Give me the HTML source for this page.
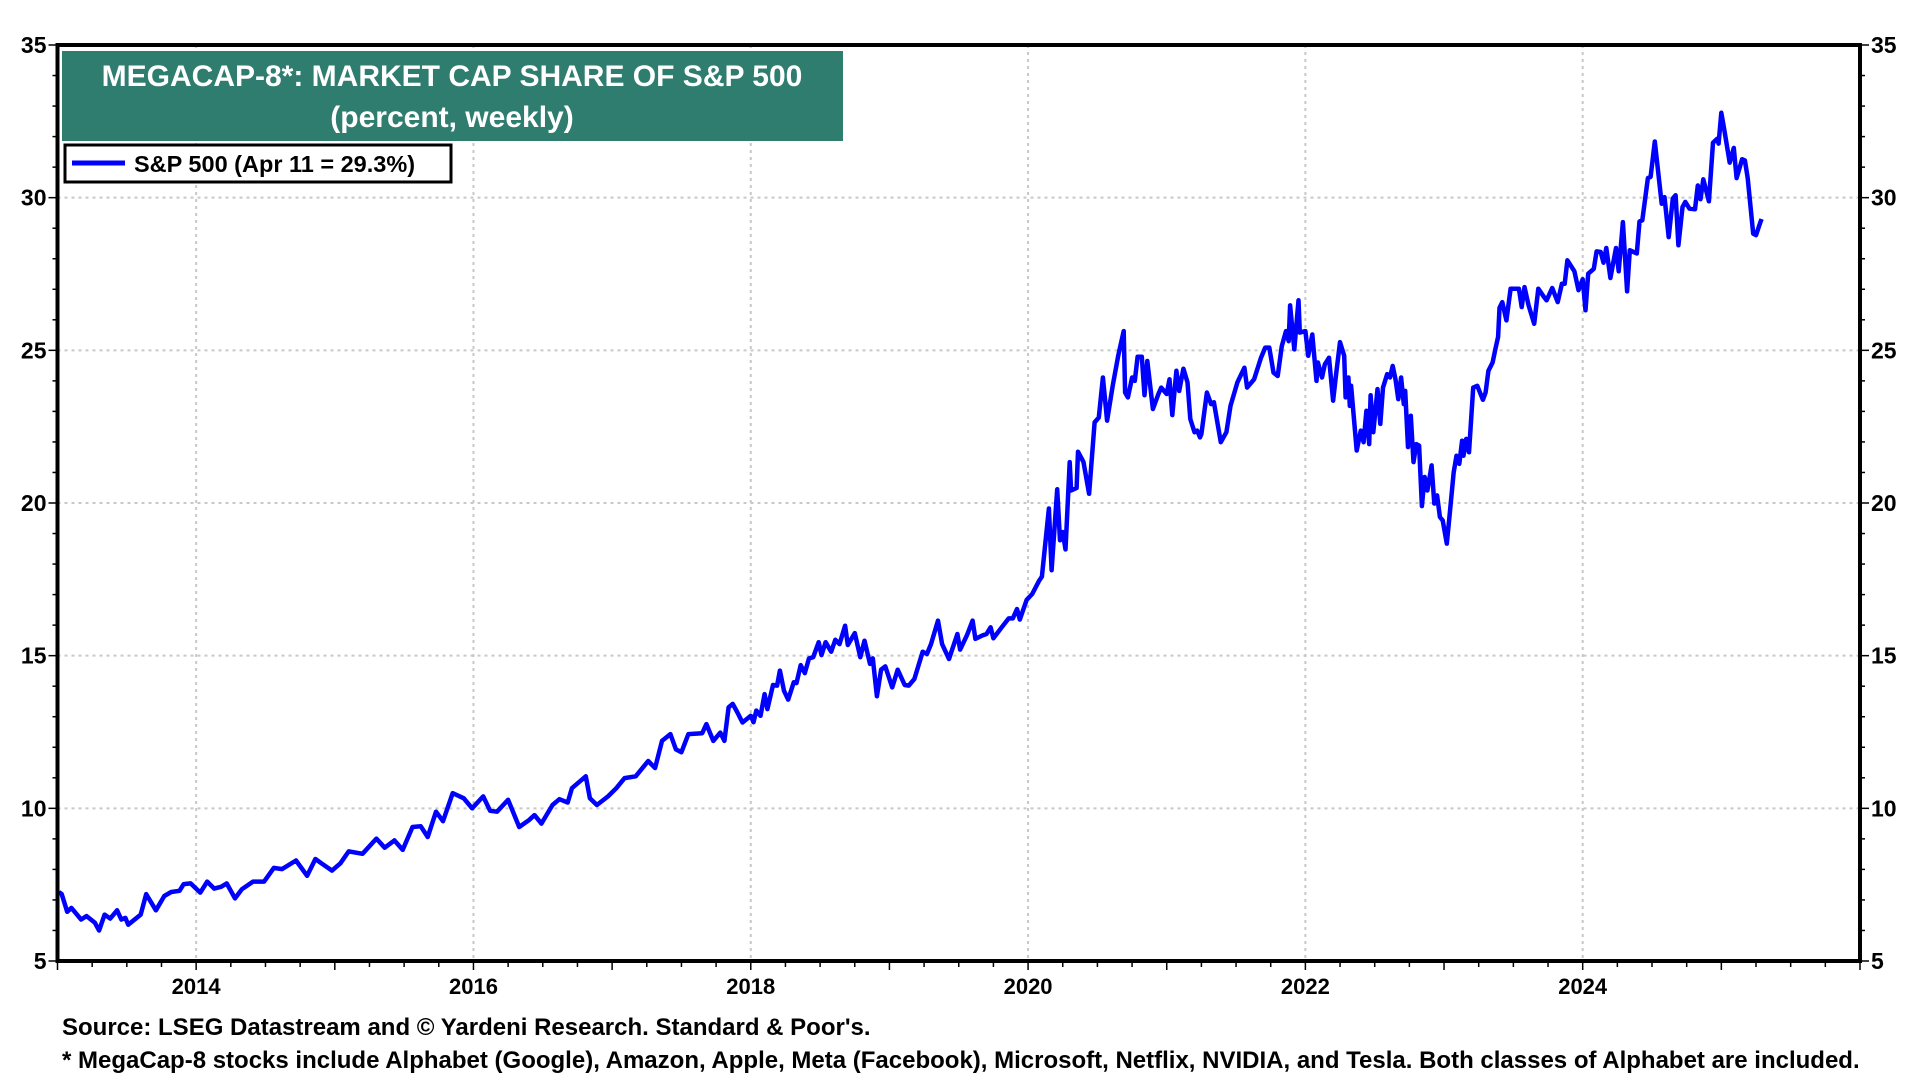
<!DOCTYPE html>
<html><head><meta charset="utf-8"><style>
html,body{margin:0;padding:0;background:#fff;}
body{width:1920px;height:1080px;overflow:hidden;position:relative;font-family:"Liberation Sans",Arial,sans-serif;}
</style></head><body>
<svg id="chart" width="1920" height="1080" xmlns="http://www.w3.org/2000/svg" style="position:absolute;left:0;top:0">
<g id="grid"></g>
<g id="ticks"></g>
<path id="line" fill="none" stroke="#0000ff" stroke-width="4.5" stroke-linejoin="round"></path>
<rect x="57.5" y="45" width="1802.5" height="916" fill="none" stroke="#000" stroke-width="4"></rect>
<g>
<rect x="62" y="51" width="781" height="90" fill="#2e7d6f"></rect>
<text x="452" y="86" text-anchor="middle" fill="#fff" font-weight="bold" font-size="30">MEGACAP-8*: MARKET CAP SHARE OF S&amp;P 500</text>
<text x="452" y="127" text-anchor="middle" fill="#fff" font-weight="bold" font-size="30">(percent, weekly)</text>
</g>
<g>
<rect x="65" y="145" width="386" height="37" fill="#fff" stroke="#000" stroke-width="3"></rect>
<line x1="72" y1="163" x2="125" y2="163" stroke="#0000ff" stroke-width="5"></line>
<text x="134" y="172" font-weight="bold" font-size="23.5" fill="#000">S&amp;P 500 (Apr 11 = 29.3%)</text>
</g>
<text x="62" y="1035" font-weight="bold" font-size="24" fill="#000">Source: LSEG Datastream and © Yardeni Research. Standard &amp; Poor's.</text>
<text x="62" y="1068" font-weight="bold" font-size="24" fill="#000">* MegaCap-8 stocks include Alphabet (Google), Amazon, Apple, Meta (Facebook), Microsoft, Netflix, NVIDIA, and Tesla. Both classes of Alphabet are included.</text>
</svg>
<script>
const yearTicks = [2014,2016,2018,2020,2022,2024];
const valueTicks = [5,10,15,20,25,30,35];
const dates = [2013.01,2013.03,2013.07,2013.1,2013.13,2013.17,2013.21,2013.27,2013.3,2013.34,2013.38,2013.43,2013.46,2013.49,2013.51,2013.6,2013.64,2013.71,2013.77,2013.82,2013.88,2013.91,2013.96,2014.03,2014.08,2014.13,2014.18,2014.22,2014.28,2014.33,2014.41,2014.49,2014.56,2014.62,2014.72,2014.8,2014.86,2014.91,2014.98,2015.04,2015.1,2015.2,2015.3,2015.36,2015.43,2015.49,2015.56,2015.62,2015.67,2015.73,2015.78,2015.85,2015.93,2015.99,2016.07,2016.12,2016.17,2016.25,2016.33,2016.4,2016.44,2016.49,2016.57,2016.62,2016.68,2016.71,2016.81,2016.84,2016.89,2016.97,2017.03,2017.09,2017.17,2017.21,2017.26,2017.31,2017.36,2017.42,2017.46,2017.5,2017.55,2017.65,2017.68,2017.73,2017.78,2017.81,2017.84,2017.87,2017.9,2017.94,2018.0,2018.02,2018.04,2018.07,2018.1,2018.12,2018.16,2018.19,2018.21,2018.24,2018.27,2018.31,2018.33,2018.36,2018.39,2018.42,2018.45,2018.49,2018.51,2018.54,2018.58,2018.61,2018.64,2018.68,2018.7,2018.75,2018.79,2018.82,2018.86,2018.88,2018.91,2018.94,2018.97,2019.02,2019.06,2019.11,2019.14,2019.18,2019.24,2019.27,2019.3,2019.35,2019.38,2019.43,2019.49,2019.51,2019.56,2019.6,2019.62,2019.67,2019.7,2019.73,2019.75,2019.81,2019.86,2019.89,2019.92,2019.94,2019.99,2020.03,2020.08,2020.1,2020.15,2020.17,2020.21,2020.23,2020.25,2020.27,2020.3,2020.31,2020.35,2020.36,2020.4,2020.44,2020.48,2020.51,2020.54,2020.57,2020.61,2020.65,2020.69,2020.7,2020.72,2020.75,2020.77,2020.79,2020.82,2020.84,2020.86,2020.9,2020.94,2020.96,2021.0,2021.02,2021.04,2021.07,2021.09,2021.12,2021.15,2021.17,2021.2,2021.22,2021.24,2021.25,2021.29,2021.32,2021.34,2021.39,2021.43,2021.46,2021.51,2021.56,2021.58,2021.63,2021.68,2021.71,2021.74,2021.77,2021.8,2021.83,2021.86,2021.88,2021.89,2021.92,2021.95,2021.96,2022.0,2022.02,2022.05,2022.08,2022.09,2022.12,2022.14,2022.17,2022.2,2022.22,2022.25,2022.28,2022.29,2022.31,2022.32,2022.33,2022.37,2022.4,2022.42,2022.44,2022.46,2022.47,2022.49,2022.52,2022.54,2022.56,2022.59,2022.61,2022.63,2022.65,2022.67,2022.69,2022.71,2022.72,2022.74,2022.76,2022.78,2022.8,2022.82,2022.84,2022.86,2022.88,2022.91,2022.93,2022.95,2022.97,2022.99,2023.02,2023.04,2023.07,2023.09,2023.11,2023.13,2023.14,2023.16,2023.18,2023.21,2023.24,2023.28,2023.3,2023.32,2023.35,2023.37,2023.39,2023.4,2023.42,2023.45,2023.48,2023.54,2023.56,2023.58,2023.61,2023.65,2023.68,2023.72,2023.74,2023.78,2023.82,2023.85,2023.87,2023.89,2023.94,2023.97,2024.0,2024.02,2024.04,2024.08,2024.1,2024.13,2024.15,2024.17,2024.2,2024.24,2024.26,2024.29,2024.32,2024.34,2024.39,2024.41,2024.43,2024.47,2024.49,2024.52,2024.57,2024.59,2024.62,2024.65,2024.67,2024.69,2024.72,2024.74,2024.77,2024.81,2024.83,2024.85,2024.87,2024.91,2024.94,2024.97,2024.98,2025.0,2025.02,2025.06,2025.09,2025.11,2025.15,2025.17,2025.19,2025.23,2025.25,2025.28,2025.29];
const values = [7.26,7.19,6.61,6.74,6.58,6.36,6.47,6.25,6.0,6.52,6.39,6.66,6.36,6.41,6.19,6.52,7.19,6.66,7.13,7.26,7.3,7.52,7.54,7.24,7.6,7.37,7.43,7.54,7.05,7.35,7.6,7.6,8.05,8.01,8.29,7.79,8.34,8.18,7.96,8.2,8.59,8.51,9.01,8.71,8.95,8.64,9.39,9.41,9.06,9.89,9.58,10.5,10.33,10.0,10.39,9.92,9.89,10.28,9.39,9.61,9.78,9.5,10.11,10.3,10.19,10.66,11.05,10.33,10.11,10.39,10.66,10.99,11.05,11.27,11.55,11.32,12.21,12.43,11.93,11.84,12.43,12.46,12.76,12.21,12.48,12.21,13.31,13.42,13.17,12.81,13.03,12.82,13.2,13.03,13.74,13.25,14.04,14.02,14.51,13.85,13.56,14.13,14.1,14.69,14.43,14.91,14.95,15.44,15.02,15.44,15.13,15.52,15.38,15.98,15.35,15.74,14.95,15.49,14.73,14.91,13.67,14.54,14.65,13.96,14.54,14.04,14.02,14.24,15.13,15.05,15.38,16.15,15.38,14.89,15.71,15.2,15.68,16.15,15.55,15.66,15.71,15.93,15.57,15.93,16.22,16.22,16.53,16.18,16.83,17.02,17.46,17.59,19.82,17.8,20.45,18.78,19.05,18.48,21.34,20.41,20.49,21.68,21.34,20.3,22.64,22.8,24.11,22.7,23.84,24.82,25.63,23.62,23.46,24.11,24.0,24.79,24.79,23.53,24.65,23.08,23.57,23.78,23.57,24.05,22.88,24.33,23.67,24.4,23.95,22.75,22.32,22.37,22.15,22.26,23.62,23.24,23.3,21.99,22.32,23.18,23.95,24.43,23.78,24.05,24.76,25.09,25.09,24.27,24.16,25.14,25.63,25.3,26.47,25.03,26.64,25.58,25.63,24.82,25.52,24.0,24.6,24.11,24.54,24.76,23.35,24.16,25.27,24.82,23.46,24.11,23.18,23.84,21.72,22.37,21.99,23.02,21.93,23.53,22.32,23.73,22.59,23.78,24.22,24.11,24.49,24.05,23.4,24.11,23.24,23.67,21.83,22.86,21.34,21.93,21.88,19.9,20.85,20.41,21.23,19.98,20.25,19.54,19.43,18.67,19.6,21.01,21.55,21.28,22.04,21.55,22.1,21.66,23.78,23.84,23.38,23.62,24.33,24.6,25.03,25.44,26.39,26.58,25.98,27.02,27.02,26.42,27.07,26.47,25.87,27.02,26.75,26.64,27.04,26.58,27.18,27.18,27.95,27.59,26.97,27.33,26.31,27.51,27.67,28.24,28.22,27.87,28.35,27.37,28.35,27.59,29.2,26.93,28.28,28.17,29.22,29.26,30.64,30.68,31.84,29.8,30.02,28.71,29.97,30.08,28.44,29.69,29.86,29.64,29.62,30.4,29.95,30.6,29.88,31.8,31.93,31.77,32.78,32.26,31.15,31.63,30.64,31.26,31.22,30.64,28.82,28.77,29.18,29.3];

const L=57.5,R=1860,T=45,B=961,X0=2013,X1=2026,Y0=5,Y1=35;
function xs(v){return L+(v-X0)/(X1-X0)*(R-L);}
function ys(v){return B-(v-Y0)/(Y1-Y0)*(B-T);}
const NS='http://www.w3.org/2000/svg';
const grid=document.getElementById('grid'), ticks=document.getElementById('ticks'), svg=document.getElementById('chart');
function mk(tag,attrs,parent){const e=document.createElementNS(NS,tag);for(const k in attrs)e.setAttribute(k,attrs[k]);parent.appendChild(e);return e;}
valueTicks.forEach(v=>{
  if(v>Y0&&v<Y1){const g=mk('line',{x1:L,x2:R,y1:ys(v),y2:ys(v),stroke:'#c8c8c8','stroke-width':2,'stroke-dasharray':'3,4'},grid);
  
  }
  const tl=mk('text',{x:L-11,y:ys(v)+8,'text-anchor':'end','font-size':23,'font-weight':'bold'},svg);tl.textContent=v;
  
  
  const tr=mk('text',{x:R+11,y:ys(v)+8,'text-anchor':'start','font-size':23,'font-weight':'bold'},svg);tr.textContent=v;
  
  
});
for(let v=Y0;v<=Y1;v++){const len=(v%5===0)?9:5;
  mk('line',{x1:L-len,x2:L,y1:ys(v),y2:ys(v),stroke:'#000','stroke-width':1.5},ticks);
  mk('line',{x1:R,x2:R+len,y1:ys(v),y2:ys(v),stroke:'#000','stroke-width':1.5},ticks);}
yearTicks.forEach(yr=>{
  const g=mk('line',{x1:xs(yr),x2:xs(yr),y1:T,y2:B,stroke:'#c8c8c8','stroke-width':2,'stroke-dasharray':'3,4'},grid);
  
  
  const t=mk('text',{x:xs(yr),y:B+33,'text-anchor':'middle','font-size':22,'font-weight':'bold'},svg);t.textContent=yr;
  
  
});
for(let q=X0*4;q<=X1*4;q++){const yr=q/4;const len=(q%4===0)?9:6;
  mk('line',{x1:xs(yr),x2:xs(yr),y1:B,y2:B+len,stroke:'#000','stroke-width':1.5},ticks);}
let d='';dates.forEach((t,i)=>{d+=(i?'L':'M')+xs(t).toFixed(1)+','+ys(values[i]).toFixed(1);});
document.getElementById('line').setAttribute('d',d);
</script>
</body></html>
